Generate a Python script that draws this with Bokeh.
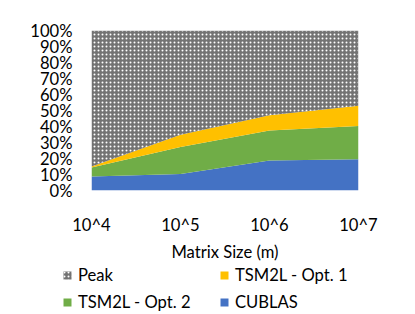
from bokeh.plotting import figure
from bokeh.layouts import column
from bokeh.models import FixedTicker, NumeralTickFormatter, Legend, LegendItem, Range1d, ColumnDataSource
from bokeh.embed import file_html
from bokeh.resources import INLINE

categories = ["10^4", "10^5", "10^6", "10^7"]
cublas = [0.088, 0.103, 0.188, 0.195]
opt2 = [0.055, 0.169, 0.187, 0.208]
opt1 = [0.007, 0.076, 0.095, 0.126]
peak = [round(1 - a - b - c, 3) for a, b, c in zip(cublas, opt2, opt1)]

stack_keys = ["cublas", "opt2", "opt1", "peak"]
series_names = ["CUBLAS", "TSM2L - Opt. 2", "TSM2L - Opt. 1", "Peak"]
series_colors = ["#4472C4", "#70AD47", "#FFC000", "#737373"]

FONT = "Lato"
FS = "16.6px"
W = 407

src = ColumnDataSource(dict(x=list(range(len(categories))), cublas=cublas, opt2=opt2, opt1=opt1, peak=peak))


def hatch(rend):
    rend.glyph.hatch_pattern = "."
    rend.glyph.hatch_color = "white"
    rend.glyph.hatch_scale = 4
    rend.glyph.hatch_weight = 1.0


p = figure(width=W, height=264, output_backend="svg", toolbar_location=None,
           x_range=Range1d(0, len(categories) - 1), y_range=Range1d(0, 1),
           min_border_left=91, min_border_right=49, min_border_top=30, min_border_bottom=70)
p.frame_align = False
p.outline_line_color = None
p.grid.visible = False

r = p.varea_stack(stackers=stack_keys, x="x", source=src, color=series_colors)
hatch(r[3])

p.xaxis.ticker = FixedTicker(ticks=list(range(len(categories))))
p.xaxis.major_label_overrides = {i: c for i, c in enumerate(categories)}
p.xaxis.axis_label = "Matrix Size (m)"
p.yaxis.ticker = FixedTicker(ticks=[i / 10 for i in range(11)])
p.yaxis.formatter = NumeralTickFormatter(format="0%")
for ax in (p.xaxis[0], p.yaxis[0]):
    ax.axis_line_color = None
    ax.major_tick_line_color = None
    ax.minor_tick_line_color = None
    ax.major_tick_out = 0
    ax.major_tick_in = 0
    ax.minor_tick_out = 0
    ax.major_label_text_font = FONT
    ax.major_label_text_font_size = FS
    ax.major_label_text_color = "#000000"
    ax.axis_label_text_font = FONT
    ax.axis_label_text_font_size = FS
    ax.axis_label_text_font_style = "normal"
    ax.axis_label_text_color = "#000000"
p.yaxis.major_label_standoff = 19
p.xaxis.major_label_standoff = 24
p.xaxis.axis_label_standoff = 4

# legend strip below the chart (hidden copies of the series supply the legend swatches)
lg = figure(width=W, height=50, output_backend="svg", toolbar_location=None,
            x_range=Range1d(0, len(categories) - 1), y_range=Range1d(0, 1),
            min_border_left=0, min_border_right=0, min_border_top=0, min_border_bottom=0)
lg.frame_align = False
lg.axis.visible = False
lg.grid.visible = False
lg.outline_line_color = None
lr = lg.varea_stack(stackers=stack_keys, x="x", source=src, color=series_colors)
hatch(lr[3])
for rr in lr:
    rr.visible = False
by_name = dict(zip(series_names, lr))

legend = Legend(items=[LegendItem(label=n, renderers=[by_name[n]]) for n in ["Peak", "TSM2L - Opt. 1", "TSM2L - Opt. 2", "CUBLAS"]],
                ncols=2, location=(62, 2), orientation="horizontal")
legend.border_line_color = None
legend.background_fill_alpha = 0
legend.inactive_fill_alpha = 0
legend.padding = 0
legend.margin = 0
legend.spacing = 7
legend.glyph_width = 10
legend.glyph_height = 10
legend.label_height = 12
legend.label_width = 134
legend.label_standoff = 6
legend.label_text_font = FONT
legend.label_text_font_size = FS
legend.label_text_color = "#000000"
lg.add_layout(legend, "center")

layout = column(p, lg, spacing=0)
open("out.html", "w").write(file_html(layout, INLINE))
